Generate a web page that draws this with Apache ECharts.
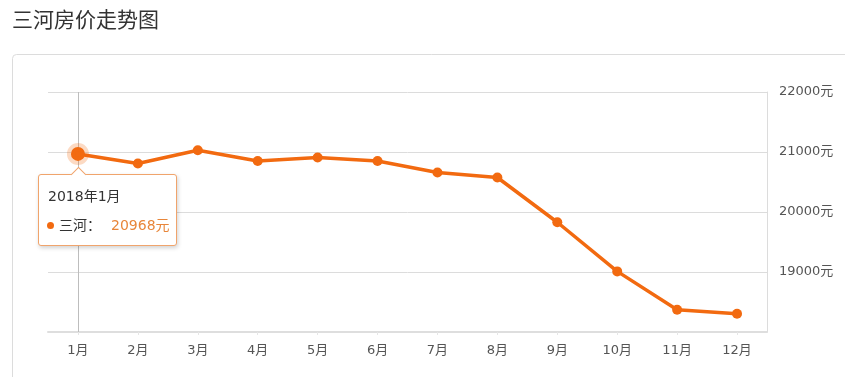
<!DOCTYPE html>
<html>
<head>
<meta charset="utf-8">
<script src="https://cdn.jsdelivr.net/npm/echarts@6/dist/echarts.min.js"></script>
<style>
html,body{margin:0;padding:0;background:#fff;}
#chart{width:845px;height:377px;}
</style>
</head>
<body>
<div id="chart"></div>
<script>
const titleText = '三河房价走势图';
const seriesName = '三河';
const categories = ['1月','2月','3月','4月','5月','6月','7月','8月','9月','10月','11月','12月'];
const values = [20968, 20808, 21028, 20851, 20907, 20851, 20658, 20575, 19829, 19010, 18372, 18305];
const yTicks = [18000, 19000, 20000, 21000, 22000];
const tooltipYear = '2018年';
const unit = '元';
const highlightIndex = 0;

const FONT = '"DejaVu Sans", "Noto Sans CJK SC", sans-serif';
const LINE = '#f26a10';

const chart = echarts.init(document.getElementById('chart'), null, {renderer: 'canvas'});

const seriesData = values.map((v, i) => i === highlightIndex ? {
  value: v,
  symbolSize: 14,
  itemStyle: {color: LINE, borderColor: 'rgba(242,106,16,0.25)', borderWidth: 8}
} : v);

const option = {
  animation: false,
  title: {
    text: titleText, left: 12, top: 9, padding: 0,
    textStyle: {fontSize: 21, fontWeight: 'normal', color: '#333', fontFamily: '"Noto Sans CJK SC", sans-serif'}
  },
  graphic: [{
    type: 'rect', left: 12, top: 54, z: -10, silent: true,
    shape: {width: 900, height: 400, r: 4},
    style: {fill: '#fff', stroke: '#dcdcdc', lineWidth: 1}
  }],
  grid: {left: 48, right: 78, top: 92, bottom: 45, outerBoundsMode: 'none'},
  tooltip: {
    trigger: 'axis',
    triggerOn: 'none',
    alwaysShowContent: true,
    backgroundColor: 'transparent',
    borderWidth: 0,
    padding: 0,
    extraCssText: 'box-shadow:none;',
    transitionDuration: 0,
    axisPointer: {type: 'line', z: 1, lineStyle: {color: '#bdbdbd', width: 1, type: 'solid'}},
    position: function () {
      const p = chart.convertToPixel({seriesIndex: 0}, [highlightIndex, values[highlightIndex]]);
      return [p[0] - 40, p[1] + 20];
    },
    formatter: function (params) {
      const p = params[0];
      const bc = '#f0a46c';
      return '<div style="position:relative;width:139px;height:72px;box-sizing:border-box;border:1px solid ' + bc + ';border-radius:3px;background:#fff;box-shadow:1px 2px 4px rgba(0,0,0,0.18);font-family:' + FONT.replace(/"/g, "'") + ';">'
        + '<div style="position:absolute;left:34px;top:-6px;width:10px;height:10px;background:#fff;border-left:1px solid ' + bc + ';border-top:1px solid ' + bc + ';transform:rotate(45deg);"></div>'
        + '<div style="position:absolute;left:9px;top:11px;font-size:14px;line-height:20px;color:#333;white-space:nowrap;">' + tooltipYear + p.name + '</div>'
        + '<div style="position:absolute;left:8px;top:40px;font-size:14px;line-height:20px;color:#333;white-space:nowrap;">'
        + '<span style="display:inline-block;width:7px;height:7px;border-radius:50%;background:' + LINE + ';vertical-align:middle;margin-right:5px;position:relative;top:-1px;"></span>'
        + p.seriesName + '：<span style="color:#e8863a;margin-left:10px;">' + p.value + unit + '</span></div>'
        + '</div>';
    }
  },
  xAxis: {
    type: 'category',
    data: categories,
    boundaryGap: true,
    axisLine: {show: true, lineStyle: {color: '#dedede', width: 2}},
    axisTick: {show: true, alignWithLabel: true, length: 3, lineStyle: {color: '#e6e6e6'}},
    axisLabel: {color: '#555', fontSize: 13, margin: 12, fontFamily: FONT},
    splitLine: {show: false}
  },
  yAxis: {
    type: 'value',
    position: 'right',
    min: yTicks[0],
    max: yTicks[yTicks.length - 1],
    interval: yTicks[1] - yTicks[0],
    axisLine: {show: true, lineStyle: {color: '#dcdcdc', width: 1}},
    axisTick: {show: false},
    axisLabel: {
      color: '#555', fontSize: 13, margin: 12, fontFamily: FONT,
      formatter: function (v) { return v === yTicks[0] ? '' : v + unit; }
    },
    splitLine: {show: true, lineStyle: {color: '#dcdcdc', width: 1}}
  },
  series: [{
    name: seriesName,
    type: 'line',
    z: 3,
    data: seriesData,
    symbol: 'circle',
    symbolSize: 10,
    showSymbol: true,
    lineStyle: {color: LINE, width: 3.5},
    itemStyle: {color: LINE, borderWidth: 0},
    emphasis: {disabled: true, scale: false}
  }]
};

chart.setOption(option);
chart.dispatchAction({type: 'showTip', seriesIndex: 0, dataIndex: highlightIndex});
setTimeout(function () {
  chart.dispatchAction({type: 'showTip', seriesIndex: 0, dataIndex: highlightIndex});
}, 50);
</script>
</body>
</html>
